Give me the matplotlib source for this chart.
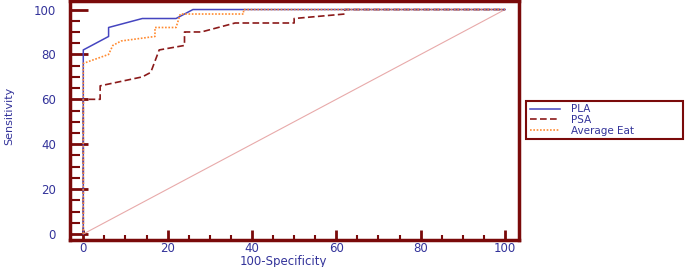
import matplotlib
matplotlib.use("Agg")
from matplotlib import pyplot as plt
from matplotlib.ticker import MultipleLocator

# ROC points (100-Specificity, Sensitivity)
pla_x = [0, 0, 6, 6, 14, 22, 24, 26, 100]
pla_y = [0, 82, 88, 92, 96, 96, 98, 100, 100]

psa_x = [0, 0, 4, 4, 14, 16, 18, 24, 24, 28, 36, 50, 50, 62, 62, 100]
psa_y = [0, 60, 60, 66, 70, 72, 82, 84, 90, 90, 94, 94, 96, 98, 100, 100]

eat_x = [0, 0, 6, 7, 9, 17, 17, 22, 23, 38, 38, 100]
eat_y = [0, 76, 80, 84, 86, 88, 92, 92, 98, 98, 100, 100]

diag = [0, 100]
ticks = [0, 20, 40, 60, 80, 100]

maroon = "#7a0a0a"
blue_txt = "#33339a"

plt.rcParams["font.family"] = ["DejaVu Sans"]

fig = plt.figure(figsize=(6.85, 2.67), dpi=100)
ax = fig.add_axes([70 / 685, 27.5 / 267, 448.5 / 685, 238.5 / 267])

ax.plot(diag, diag, color="#e8aaaa", lw=0.8)
# draw order so the blue/orange lie over the dashed one at the top
l_psa, = ax.plot(psa_x, psa_y, color="#8b1a1a", lw=1.2, ls=(0, (4, 2)), label="PSA")
l_pla, = ax.plot(pla_x, pla_y, color="#4545c0", lw=1.1, label="PLA")
l_eat, = ax.plot(eat_x, eat_y, color="#ff8a30", lw=1.2, ls=(0, (1, 1)), label="Average Eat")

ax.set_xlim(-3.15, 103.2)
ax.set_ylim(-2.45, 103.8)
ax.set_xticks(ticks)
ax.set_yticks(ticks)
ax.xaxis.set_minor_locator(MultipleLocator(5))
ax.yaxis.set_minor_locator(MultipleLocator(5))

for s in ax.spines.values():
    s.set_color(maroon)
    s.set_linewidth(2.5)

ax.tick_params(axis="x", which="major", direction="in", length=7, width=2,
               color=maroon, labelcolor=blue_txt, labelsize=8.5, pad=2)
ax.tick_params(axis="x", which="minor", direction="in", length=3.5, width=1.5, color=maroon)
ax.tick_params(axis="y", which="major", direction="in", length=13, width=2,
               color=maroon, labelcolor=blue_txt, labelsize=8.5, pad=10)
ax.tick_params(axis="y", which="minor", direction="in", length=7, width=1.5, color=maroon)

ax.set_xlabel("100-Specificity", color=blue_txt, fontsize=8.5, va="center")
ax.xaxis.set_label_coords(0.475, -0.094)
ax.set_ylabel("Sensitivity", color=blue_txt, fontsize=8, va="center")
ax.yaxis.set_label_coords(-0.136, 0.52)

leg = fig.legend([l_pla, l_psa, l_eat], ["PLA", "PSA", "Average Eat"],
                 loc="center", bbox_to_anchor=(526 / 685, 0.483, 157 / 685, 0.135),
                 mode="expand", fontsize=7.5, labelcolor=blue_txt, frameon=True,
                 fancybox=False, framealpha=1, edgecolor=maroon, handlelength=2.9,
                 handletextpad=1.1, labelspacing=0.05, borderpad=0.35, borderaxespad=0)
leg.get_frame().set_linewidth(1.5)

fig.savefig("out.png", dpi=100)
